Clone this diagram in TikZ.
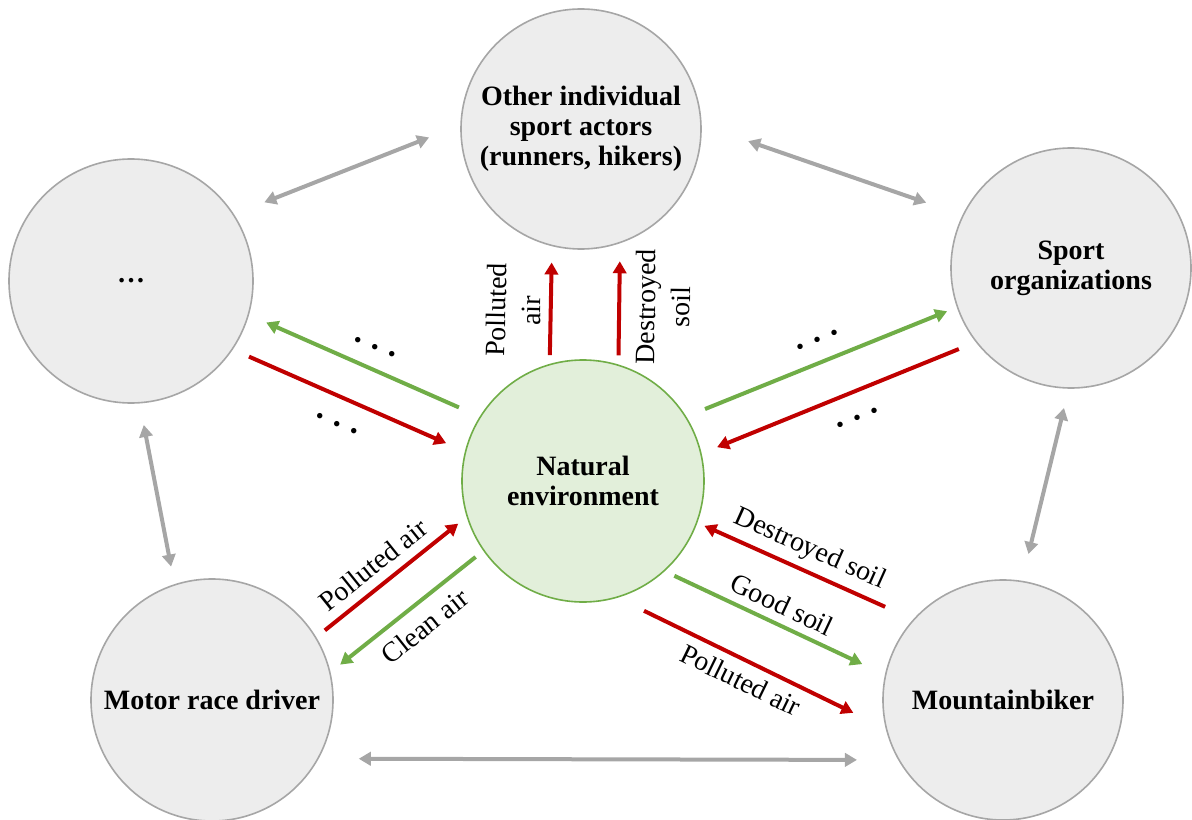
\documentclass[tikz,border=0pt]{standalone}
\usepackage{fontspec}
\setmainfont{Liberation Serif}
\usetikzlibrary{arrows.meta}
\definecolor{badc}{HTML}{C00000}
\definecolor{goodc}{HTML}{70AD47}
\definecolor{envc}{HTML}{E2EFDA}
\definecolor{greyc}{HTML}{A6A6A6}
\definecolor{fillc}{HTML}{EDEDED}
\newcommand{\figfont}{\fontsize{21}{22.5}\selectfont}

\begin{document}
\begin{tikzpicture}[x=0.75pt,y=-0.75pt,
      actor/.style={circle,draw=greyc,fill=fillc,line width=1.2pt,minimum size=180pt,inner sep=0pt,outer sep=0pt,align=center,font=\figfont\bfseries},
      nature/.style={actor,draw=goodc,fill=envc,minimum size=181.5pt},
      bad/.style={->,line width=3pt,badc},
      good/.style={->,line width=3pt,goodc},
      link/.style={<->,line width=3pt,greyc},
      lbl/.style={sloped,inner sep=2pt,align=center,text=black,font=\fontsize{21}{26}\selectfont},
      etc/.style={sloped,inner sep=0pt,text=black,font=\fontsize{25}{26}\selectfont\bfseries},
      >={Triangle[length=9pt,width=10pt]}]
    \useasboundingbox (0,0) rectangle (1192,820);
    \node[nature] (env) at (583,481) {Natural\\environment};
    \node[actor] (others) at (581,129) {Other individual\\sport actors\\(runners, hikers)};
    \node[actor,minimum size=183pt] (unk) at (131,281) {\dots};
    \node[actor] (org) at (1071,268) {Sport\\organizations};
    \node[actor,minimum size=181.5pt] (motor) at (212,700) {Motor race driver};
    \node[actor] (bike) at (1003,700) {Mountainbiker};
    % environment -> other actors
    \draw[bad,shorten <=7.2pt,shorten >=12.8pt] (env.106) -- node[lbl,pos=.45,above=4pt] {Polluted\\air} (others.-104.8);
    \draw[bad,shorten <=7.5pt,shorten >=14.1pt] (env.73.4) -- node[lbl,pos=.48,below=9pt] {Destroyed\\soil} (others.-71.8);
    % unknown actors
    \draw[good,shorten <=17.6pt,shorten >=14.7pt] (env.148.9) -- node[etc,pos=.49,above=12.5pt] {.\hspace{.3em}.\hspace{.3em}.} (unk.-16.2);
    \draw[bad,shorten <=13.8pt,shorten >=15.9pt] (unk.-34.85) -- node[etc,pos=.495,below=16pt] {.\hspace{.3em}.\hspace{.3em}.} (env.166.3);
    % sport organizations
    \draw[good,shorten <=15.7pt,shorten >=8.4pt] (env.32) -- node[etc,pos=.516,above=13pt] {.\hspace{.3em}.\hspace{.3em}.} (org.-161.1);
    \draw[bad,shorten <=14.25pt,shorten >=13.1pt] (org.-142.65) -- node[etc,pos=.466,below=15.5pt] {.\hspace{.3em}.\hspace{.3em}.} (env.13);
    % motor race driver
    \draw[bad,shorten <=8.8pt,shorten >=8.7pt] (motor.31.8) -- node[lbl,pos=.465,above=5pt] {Polluted air} (env.-163.3);
    \draw[good,shorten <=7.9pt,shorten >=9.8pt] (env.-145.6) -- node[lbl,pos=.476,below=6pt] {Clean air} (motor.13.3);
    % mountainbiker
    \draw[bad,shorten <=23.6pt,shorten >=6.3pt] (bike.138) -- node[lbl,pos=.52,above=3pt] {Destroyed soil} (env.-20.6);
    \draw[good,shorten <=8.6pt,shorten >=19.3pt] (env.-48.85) -- node[lbl,pos=.496,above=4pt] {Good soil} (bike.168.9);
    \draw[bad,shorten <=23.1pt,shorten >=27.75pt] (env.-74.6) -- node[lbl,pos=.492,below=4pt] {Polluted air} (bike.-166.5);
    % actors among each other
    \draw[link,shorten <=25pt,shorten >=25.8pt] (unk.33.3) -- (others.178.9);
    \draw[link,shorten <=37.5pt,shorten >=29.3pt] (others.2.3) -- (org.154.4);
    \draw[link,shorten <=17pt,shorten >=14pt] (unk.-86.3) -- (motor.108.6);
    \draw[link,shorten <=15.5pt,shorten >=21.2pt] (org.-91.6) -- (bike.81.1);
    \draw[link,shorten <=30.7pt,shorten >=31.6pt] (motor.-29.7) -- (bike.-150);
  \end{tikzpicture}
\end{document}
